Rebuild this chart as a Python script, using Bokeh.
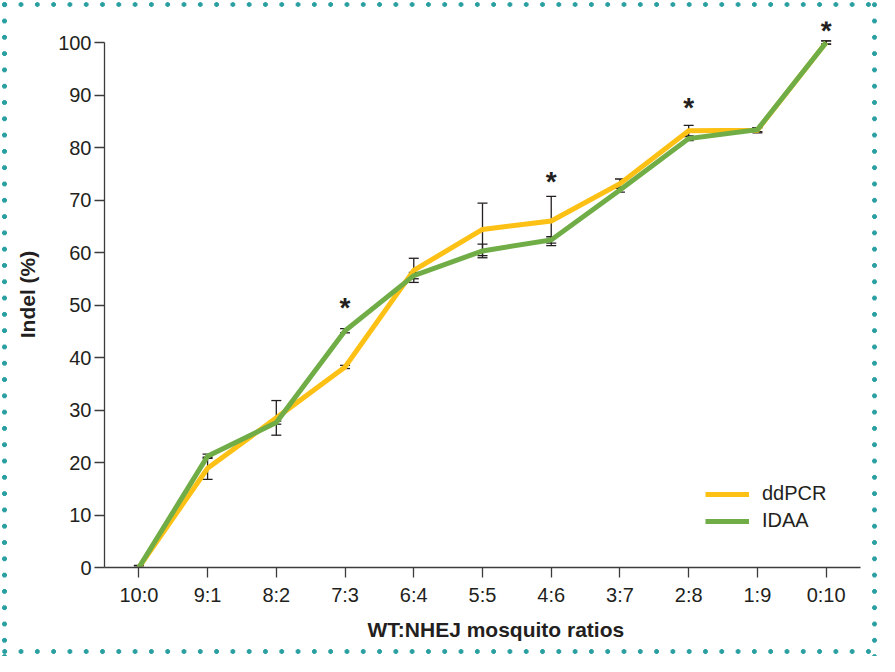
from bokeh.plotting import figure
from bokeh.models import (ColumnDataSource, Whisker, TeeHead, Legend, LegendItem,
                          Title, FactorRange, Range1d, FixedTicker)
from bokeh.embed import file_html
from bokeh.resources import INLINE
from bokeh.core.properties import value

# ---------------- data ----------------
ratios = ["10:0", "9:1", "8:2", "7:3", "6:4", "5:5", "4:6", "3:7", "2:8", "1:9", "0:10"]
ddpcr_mean = [0.0, 18.9, 28.5, 38.2, 56.6, 64.4, 66.0, 73.1, 83.2, 83.3, 100.0]
ddpcr_err = [0.4, 2.1, 3.3, 0.3, 2.3, 5.0, 4.7, 0.9, 1.0, 0.5, 0.3]
idaa_mean = [0.0, 21.2, 27.6, 45.1, 55.6, 60.3, 62.4, 71.9, 81.7, 83.4, 100.0]
idaa_err = [0.3, 0.4, 0.3, 0.4, 0.6, 1.3, 0.6, 0.4, 0.4, 0.4, 0.3]
sig_ratios = ["7:3", "4:6", "2:8", "0:10"]
sig_heights = [50.0, 74.0, 88.0, 102.7]
y_ticks = [0, 10, 20, 30, 40, 50, 60, 70, 80, 90, 100]

YELLOW = "#FDC014"
GREEN = "#70AD47"
TEAL = "#2A9FA1"
INK = "#231F20"
FONT = "Liberation Sans"

src = ColumnDataSource(dict(
    ratio=ratios,
    dd=ddpcr_mean,
    dd_up=[m + e for m, e in zip(ddpcr_mean, ddpcr_err)],
    dd_lo=[m - e for m, e in zip(ddpcr_mean, ddpcr_err)],
    ida=idaa_mean,
    ida_up=[m + e for m, e in zip(idaa_mean, idaa_err)],
    ida_lo=[m - e for m, e in zip(idaa_mean, idaa_err)],
))
sig_src = ColumnDataSource(dict(x=sig_ratios, y=sig_heights, t=["*"] * len(sig_ratios)))

dot = f"radial-gradient(circle, {TEAL} 2.1px, rgba(255,255,255,0) 2.7px)"
styles = {
    "background-image": ", ".join([dot] * 4),
    "background-size": "16.3px 9.4px, 8.6px 16.3px, 9px 16.3px, 16.3px 9px",
    "background-position": "-3.45px 0px, 0px -3.45px, 870px -3.45px, -3.45px 647px",
    "background-repeat": "repeat-x, repeat-y, repeat-y, repeat-x",
}

p = figure(x_range=FactorRange(factors=ratios, range_padding=0),
           y_range=Range1d(0, 104),
           width=879, height=656, output_backend="svg", toolbar_location=None,
           min_border_left=104, min_border_right=19, min_border_top=21, min_border_bottom=89,
           border_fill_color=None, background_fill_color="white",
           outline_line_color=None, styles=styles)
p.title.visible = False

r_dd = p.line(x="ratio", y="dd", source=src, line_color=YELLOW, line_width=5, line_join="miter")
r_ida = p.line(x="ratio", y="ida", source=src, line_color=GREEN, line_width=5, line_join="miter")

for up, lo in (("dd_up", "dd_lo"), ("ida_up", "ida_lo")):
    w = Whisker(base="ratio", upper=up, lower=lo, source=src,
                line_color=INK, line_width=1.3,
                upper_head=TeeHead(size=10, line_color=INK, line_width=1.3),
                lower_head=TeeHead(size=10, line_color=INK, line_width=1.3))
    p.add_layout(w)

p.text(x="x", y="y", text="t", source=sig_src, text_font=value(FONT), text_font_style="bold",
       text_font_size="28px", text_align="center", text_baseline="middle",
       text_color=INK, y_offset=2)

# axes
p.xgrid.visible = False
p.ygrid.visible = False
for ax in (p.xaxis[0], p.yaxis[0]):
    ax.axis_line_color = "#3C3C3C"
    ax.axis_line_width = 1.3
    ax.major_tick_line_color = "#3C3C3C"
    ax.major_tick_line_width = 1.3
    ax.major_tick_in = 0
    ax.major_tick_out = 10
    ax.minor_tick_line_color = None
    ax.major_label_text_font = FONT
    ax.major_label_text_font_size = "20px"
    ax.major_label_text_color = INK

p.yaxis.ticker = FixedTicker(ticks=y_ticks)
p.yaxis.bounds = (0, 100)
p.yaxis.major_label_standoff = 3
p.yaxis.axis_label = "Indel (%)"
p.yaxis.axis_label_text_font = FONT
p.yaxis.axis_label_text_font_style = "bold"
p.yaxis.axis_label_text_font_size = "21px"
p.yaxis.axis_label_text_color = INK
p.yaxis.axis_label_standoff = 16

p.xaxis.major_label_standoff = 6

xt = Title(text="WT:NHEJ mosquito ratios", align="left", offset=263,
           text_font=FONT, text_font_style="bold", text_font_size="21px",
           text_color=INK, standoff=15)
p.add_layout(xt, "below")

legend = Legend(items=[LegendItem(label="ddPCR", renderers=[r_dd]),
                       LegendItem(label="IDAA", renderers=[r_ida])],
                location=(601, 35), border_line_color=None, background_fill_alpha=0,
                padding=0, margin=0, spacing=4, glyph_width=44, glyph_height=20,
                label_height=20, label_standoff=13,
                label_text_font=FONT, label_text_font_size="20px", label_text_color=INK)
p.add_layout(legend)

open("out.html", "w").write(file_html(p, INLINE))
